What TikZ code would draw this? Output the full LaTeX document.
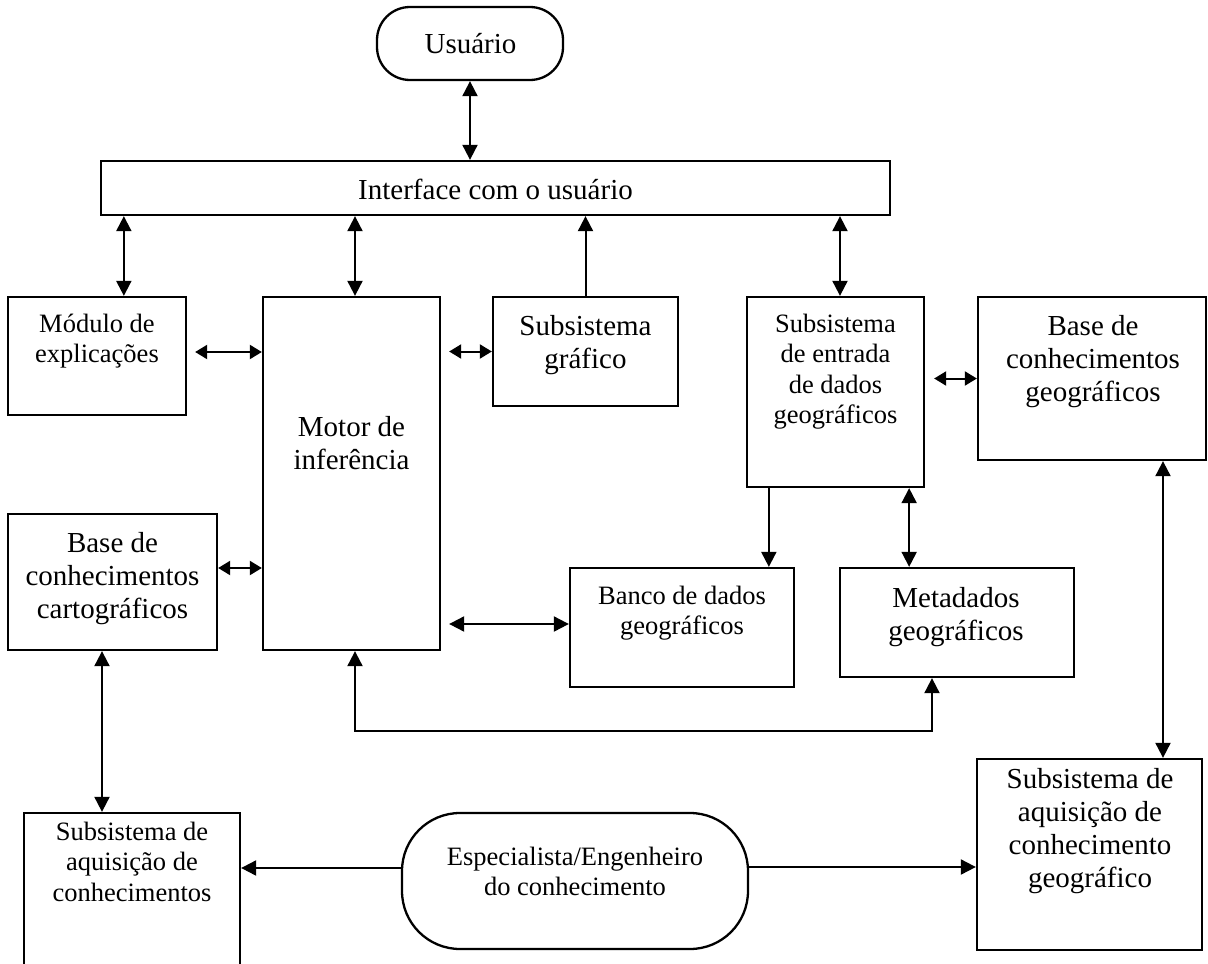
\documentclass[tikz,border=0pt]{standalone}
\usepackage{fontspec}
\setmainfont{Liberation Serif}
\usetikzlibrary{arrows.meta}

\begin{document}
\begin{tikzpicture}[x=1pt, y=-1pt,
  box/.style={draw, line width=2.3pt, inner sep=0pt, rectangle},
  pill/.style={box, rounded corners=#1},
  fsmall/.style={inner sep=0pt, align=center, font=\fontsize{26.5}{30.5}\selectfont},
  fbig/.style={inner sep=0pt, align=center, font=\fontsize{29}{33}\selectfont},
  link/.style={line width=2pt},
  arr/.style={link, -{Triangle[length=15pt,width=15pt]}},
  dbl/.style={link, {Triangle[length=15pt,width=15pt]}-{Triangle[length=15pt,width=15pt]}},
  dbls/.style={link, {Triangle[length=12pt,width=14pt]}-{Triangle[length=12pt,width=14pt]}}]

\path[use as bounding box, clip] (0,0) rectangle (1208,964);

% ---- boxes ----
\node[pill=33pt, minimum width=186pt, minimum height=73pt] (usr) at (470,43.5) {};
\node[box, minimum width=789pt, minimum height=54pt] (iface) at (495.5,188) {};
\node[box, minimum width=178pt, minimum height=118pt] (mod) at (97,356) {};
\node[box, minimum width=177pt, minimum height=353pt] (motor) at (351.5,473.5) {};
\node[box, minimum width=185pt, minimum height=109pt] (graf) at (585.5,351.5) {};
\node[box, minimum width=177pt, minimum height=190pt] (entr) at (835.5,392) {};
\node[box, minimum width=228pt, minimum height=163pt] (basegeo) at (1092,378.5) {};
\node[box, minimum width=209pt, minimum height=136pt] (cart) at (112.5,582) {};
\node[box, minimum width=224pt, minimum height=119pt] (banco) at (682,627.5) {};
\node[box, minimum width=234pt, minimum height=109pt] (meta) at (957,622.5) {};
\node[box, minimum width=225pt, minimum height=191pt] (aqgeo) at (1089.5,854.5) {};
\node[pill=58pt, minimum width=346pt, minimum height=136pt] (esp) at (575,881) {};
\node[box, minimum width=216pt, minimum height=180pt] (aqc) at (132,903) {};

% ---- labels ----
\node[fbig, anchor=base] (usr-t) at (470.5,53) {Usuário};
\node[fbig, anchor=base] (iface-t) at (495.5,199) {Interface com o usuário};
\node[fsmall, anchor=north] (mod-t) at (97,310.65) {\strut Módulo de\\explicações};
\node[fbig, anchor=north] (motor-t) at (351.5,412.9) {\strut Motor de\\inferência};
\node[fbig, anchor=north] (graf-t) at (585.5,311.9) {\strut Subsistema\\gráfico};
\node[fsmall, anchor=north] (entr-t) at (835.5,310.65) {\strut Subsistema\\de entrada\\de dados\\geográficos};
\node[fbig, anchor=north] (basegeo-t) at (1093,311.9) {\strut Base de\\conhecimentos\\geográficos};
\node[fbig, anchor=north] (cart-t) at (112.5,528.9) {\strut Base de\\conhecimentos\\cartográficos};
\node[fsmall, anchor=north] (banco-t) at (682,582.65) {\strut Banco de dados\\geográficos};
\node[fbig, anchor=north] (meta-t) at (956,583.9) {\strut Metadados\\geográficos};
\node[fbig, anchor=north] (aqgeo-t) at (1090,764.9) {\strut Subsistema de\\aquisição de\\conhecimento\\geográfico};
\node[fsmall, anchor=north] (esp-t) at (575,843.65) {\strut Especialista/Engenheiro\\do conhecimento};
\node[fsmall, anchor=north] (aqc-t) at (132,818.65) {\strut Subsistema de\\aquisição de\\conhecimentos};

% ---- connectors ----
\draw[dbl] (usr.south) -- (usr.south |- iface.north);

\coordinate (c1) at ([xshift=24pt]iface.south west);
\draw[dbl] (c1) -- (c1 |- mod.north);
\coordinate (c2) at ([xshift=3.5pt]motor.north);
\draw[dbl] (c2 |- iface.south) -- (c2);
\draw[arr] (graf.north) -- (graf.north |- iface.south);
\coordinate (c4) at ([xshift=4.5pt]entr.north);
\draw[dbl] (c4 |- iface.south) -- (c4);

\coordinate (c5) at ([yshift=4pt]mod.east);
\draw[dbls, shorten <=8pt] (c5) -- (c5 -| motor.west);
\draw[dbls, shorten <=8pt] (graf.west -| motor.east) -- (graf.west);
\draw[dbls, shorten <=9pt] (basegeo.west -| entr.east) -- (basegeo.west);
\coordinate (c8) at ([yshift=14pt]cart.east);
\draw[dbls] (c8) -- (c8 -| motor.west);
\coordinate (c9) at ([yshift=3.5pt]banco.west);
\draw[dbl, shorten <=8pt] (c9 -| motor.east) -- (c9);

\coordinate (c10) at ([xshift=23pt]entr.south west);
\draw[arr] (c10) -- (c10 |- banco.north);
\coordinate (c11) at ([xshift=-16pt]entr.south east);
\draw[dbl] (c11) -- (c11 |- meta.north);

\coordinate (c12) at ([xshift=3.5pt]motor.south);
\coordinate (c12b) at ([xshift=-25pt]meta.south);
\draw[dbl] (c12) -- ++(0,80) -| (c12b);

\coordinate (c13) at ([xshift=71pt]basegeo.south);
\draw[dbl] (c13) -- (c13 |- aqgeo.north);
\coordinate (c14) at ([xshift=-10.5pt]cart.south);
\draw[dbl] (c14) -- (c14 |- aqc.north);

\coordinate (c15) at ([yshift=13pt]esp.west);
\draw[arr] (c15) -- (c15 -| aqc.east);
\coordinate (c16) at ([yshift=14pt]esp.east);
\draw[arr] (c16) -- (c16 -| aqgeo.west);

\end{tikzpicture}
\end{document}
